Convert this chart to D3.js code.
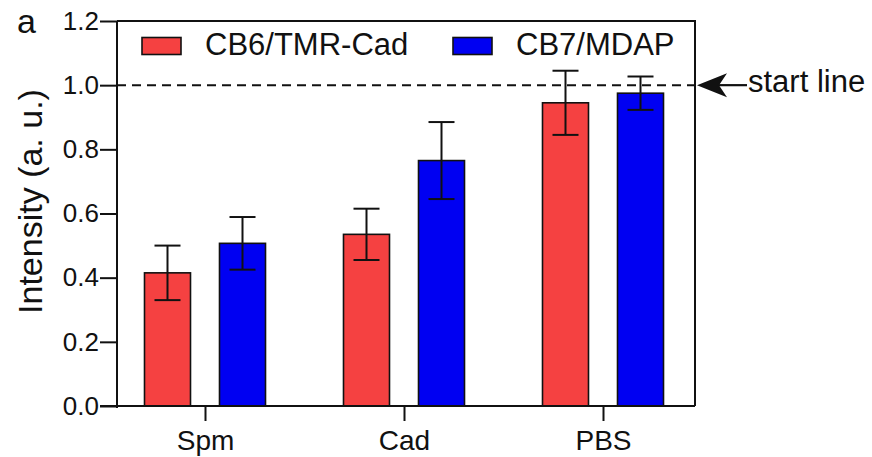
<!DOCTYPE html>
<html>
<head>
<meta charset="utf-8">
<script src="https://cdn.jsdelivr.net/npm/d3@7"></script>
<style>
  html, body { margin: 0; padding: 0; background: #fff; }
  svg { display: block; font-family: "Liberation Sans", Arial, sans-serif; }
</style>
</head>
<body>
<svg id="chart" width="872" height="457"></svg>
<script>
// Treatment groups along the x axis
const categories = ["Spm", "Cad", "PBS"];
// Probe series
const seriesNames = ["CB6/TMR-Cad", "CB7/MDAP"];
const seriesColors = ["#f54141", "#0000f2"];
// Normalised intensity (mean) and error (±) per group, one array per series
const cb6Values = [0.415, 0.535, 0.945];
const cb6Errors = [0.085, 0.080, 0.100];
const cb7Values = [0.507, 0.765, 0.975];
const cb7Errors = [0.082, 0.120, 0.052];
// Axis ticks and the reference level
const yTicks = [0.0, 0.2, 0.4, 0.6, 0.8, 1.0, 1.2];
const startLine = 1.0;

const svg = d3.select("#chart");
const plotLeft = 117, plotRight = 695, plotTop = 21, plotBottom = 406;

const y = d3.scaleLinear().domain([0, 1.2]).range([plotBottom, plotTop]);
const x = d3.scalePoint().domain(categories).range([205, 603]);
const inner = d3.scaleBand().domain(seriesNames).range([-75, 75])
  .paddingInner(0.3867).paddingOuter(0.1933);

const rows = categories.map((c, i) => ({
  cat: c,
  vals: [
    { s: seriesNames[0], v: cb6Values[i], e: cb6Errors[i], color: seriesColors[0] },
    { s: seriesNames[1], v: cb7Values[i], e: cb7Errors[i], color: seriesColors[1] }
  ]
}));

// Bars
const groups = svg.append("g").selectAll("g").data(rows).join("g")
  .attr("transform", d => `translate(${x(d.cat)},0)`);

groups.selectAll("rect").data(d => d.vals).join("rect")
  .attr("x", d => inner(d.s))
  .attr("width", inner.bandwidth())
  .attr("y", d => y(d.v))
  .attr("height", d => y(0) - y(d.v))
  .attr("fill", d => d.color)
  .attr("stroke", "#111")
  .attr("stroke-width", 1.6);

// Error bars
const capW = 26;
const cx = d => inner(d.s) + inner.bandwidth() / 2;
const eb = groups.selectAll("g.err").data(d => d.vals).join("g").attr("class", "err")
  .attr("stroke", "#111").attr("stroke-width", 2);
eb.append("line")
  .attr("x1", cx).attr("x2", cx)
  .attr("y1", d => y(d.v + d.e)).attr("y2", d => y(d.v - d.e));
eb.append("line")
  .attr("x1", d => cx(d) - capW / 2).attr("x2", d => cx(d) + capW / 2)
  .attr("y1", d => y(d.v + d.e)).attr("y2", d => y(d.v + d.e));
eb.append("line")
  .attr("x1", d => cx(d) - capW / 2).attr("x2", d => cx(d) + capW / 2)
  .attr("y1", d => y(d.v - d.e)).attr("y2", d => y(d.v - d.e));

// Dashed reference line
svg.append("line")
  .attr("x1", plotLeft).attr("x2", plotRight)
  .attr("y1", y(startLine)).attr("y2", y(startLine))
  .attr("stroke", "#111").attr("stroke-width", 2)
  .attr("stroke-dasharray", "9,6");

// Frame (top and right edges)
svg.append("path")
  .attr("d", `M${plotLeft},${plotTop}H${plotRight}V${plotBottom}`)
  .attr("fill", "none").attr("stroke", "#111").attr("stroke-width", 2);

// Y axis
const yAxis = svg.append("g").attr("transform", `translate(${plotLeft},0)`)
  .call(d3.axisLeft(y).tickValues(yTicks).tickFormat(d3.format(".1f"))
    .tickSize(17).tickSizeOuter(0).tickPadding(1));
yAxis.select(".domain").attr("stroke", "#111").attr("stroke-width", 2)
  .attr("d", `M0,${plotTop}V${plotBottom + 2}`);
yAxis.selectAll(".tick line").attr("stroke", "#111").attr("stroke-width", 2);
yAxis.selectAll(".tick text").attr("fill", "#111")
  .style("font-size", "26px").style("font-family", "Liberation Sans, Arial, sans-serif");

// X axis
const xAxis = svg.append("g").attr("transform", `translate(0,${plotBottom})`)
  .call(d3.axisBottom(x).tickSize(15).tickSizeOuter(0).tickPadding(9));
xAxis.select(".domain").attr("stroke", "#111").attr("stroke-width", 2)
  .attr("d", `M${plotLeft - 17},0H${plotRight}`);
xAxis.selectAll(".tick line").attr("stroke", "#111").attr("stroke-width", 2);
xAxis.selectAll(".tick text").attr("fill", "#111")
  .style("font-size", "28px").style("font-family", "Liberation Sans, Arial, sans-serif");

// Y axis title
svg.append("text")
  .attr("transform", `translate(42,${(plotTop + plotBottom) / 2 - 12}) rotate(-90)`)
  .attr("text-anchor", "middle")
  .attr("fill", "#111")
  .style("font-size", "34px")
  .text("Intensity (a. u.)");

// Panel letter
svg.append("text").attr("x", 17).attr("y", 33)
  .attr("fill", "#111").style("font-size", "34px").text("a");

// Legend
const legendX = [142, 453];
const legend = svg.append("g").selectAll("g").data(seriesNames).join("g")
  .attr("transform", (d, i) => `translate(${legendX[i]},0)`);
legend.append("rect")
  .attr("x", 0).attr("y", 37.5).attr("width", 39).attr("height", 17)
  .attr("fill", (d, i) => seriesColors[i])
  .attr("stroke", "#111").attr("stroke-width", 1.6);
legend.append("text")
  .attr("x", 63).attr("y", 55)
  .attr("fill", "#111").style("font-size", "31px")
  .text(d => d);

// "start line" annotation with arrow pointing at the reference level
const ay = y(startLine);
svg.append("line")
  .attr("x1", 718).attr("x2", 747).attr("y1", ay).attr("y2", ay)
  .attr("stroke", "#111").attr("stroke-width", 2.2);
svg.append("path")
  .attr("d", `M697,${ay}L727,${ay - 12}L719,${ay}L727,${ay + 12}Z`)
  .attr("fill", "#111");
svg.append("text")
  .attr("x", 748).attr("y", ay + 7)
  .attr("fill", "#111").style("font-size", "31px")
  .text("start line");
</script>
</body>
</html>
